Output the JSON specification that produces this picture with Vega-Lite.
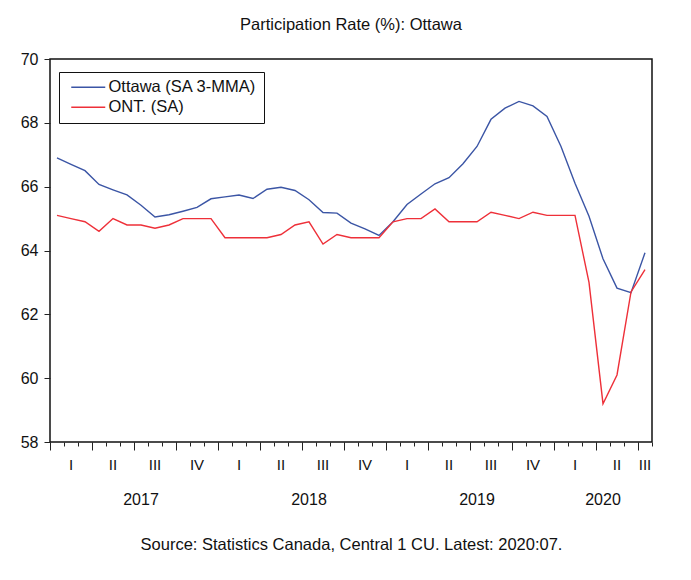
{
  "$schema": "https://vega.github.io/schema/vega-lite/v6.json",
  "width": 602,
  "height": 383,
  "autosize": "none",
  "padding": {"left": 50, "top": 59, "right": 39, "bottom": 138},
  "background": "white",
  "title": {"text": "Participation Rate (%): Ottawa", "frame": "group", "anchor": "middle", "baseline": "alphabetic", "offset": 5, "fontSize": 16.5, "font": "Liberation Sans", "fontWeight": "normal", "color": "#111"},
  "config": {
    "view": {"stroke": "#111", "strokeWidth": 1.5},
    "axis": {"labelFont": "Liberation Sans", "labelColor": "#111", "tickColor": "#222", "titleFont": "Liberation Sans", "titleColor": "#111", "titleFontWeight": "normal", "grid": false, "domain": false}
  },
  "data": {"values": [
    {"month": "2017-01", "ottawa": 66.9, "ont": 65.1},
    {"month": "2017-02", "ottawa": 66.7, "ont": 65.0},
    {"month": "2017-03", "ottawa": 66.5, "ont": 64.9},
    {"month": "2017-04", "ottawa": 66.07, "ont": 64.6},
    {"month": "2017-05", "ottawa": 65.9, "ont": 65.0},
    {"month": "2017-06", "ottawa": 65.74, "ont": 64.8},
    {"month": "2017-07", "ottawa": 65.42, "ont": 64.8},
    {"month": "2017-08", "ottawa": 65.05, "ont": 64.7},
    {"month": "2017-09", "ottawa": 65.12, "ont": 64.8},
    {"month": "2017-10", "ottawa": 65.23, "ont": 65.0},
    {"month": "2017-11", "ottawa": 65.35, "ont": 65.0},
    {"month": "2017-12", "ottawa": 65.62, "ont": 65.0},
    {"month": "2018-01", "ottawa": 65.68, "ont": 64.4},
    {"month": "2018-02", "ottawa": 65.74, "ont": 64.4},
    {"month": "2018-03", "ottawa": 65.63, "ont": 64.4},
    {"month": "2018-04", "ottawa": 65.92, "ont": 64.4},
    {"month": "2018-05", "ottawa": 65.98, "ont": 64.5},
    {"month": "2018-06", "ottawa": 65.88, "ont": 64.8},
    {"month": "2018-07", "ottawa": 65.59, "ont": 64.9},
    {"month": "2018-08", "ottawa": 65.19, "ont": 64.2},
    {"month": "2018-09", "ottawa": 65.17, "ont": 64.5},
    {"month": "2018-10", "ottawa": 64.86, "ont": 64.4},
    {"month": "2018-11", "ottawa": 64.68, "ont": 64.4},
    {"month": "2018-12", "ottawa": 64.47, "ont": 64.4},
    {"month": "2019-01", "ottawa": 64.9, "ont": 64.9},
    {"month": "2019-02", "ottawa": 65.44, "ont": 65.0},
    {"month": "2019-03", "ottawa": 65.77, "ont": 65.0},
    {"month": "2019-04", "ottawa": 66.09, "ont": 65.3},
    {"month": "2019-05", "ottawa": 66.28, "ont": 64.9},
    {"month": "2019-06", "ottawa": 66.72, "ont": 64.9},
    {"month": "2019-07", "ottawa": 67.26, "ont": 64.9},
    {"month": "2019-08", "ottawa": 68.11, "ont": 65.2},
    {"month": "2019-09", "ottawa": 68.46, "ont": 65.1},
    {"month": "2019-10", "ottawa": 68.67, "ont": 65.0},
    {"month": "2019-11", "ottawa": 68.53, "ont": 65.2},
    {"month": "2019-12", "ottawa": 68.2, "ont": 65.1},
    {"month": "2020-01", "ottawa": 67.26, "ont": 65.1},
    {"month": "2020-02", "ottawa": 66.11, "ont": 65.1},
    {"month": "2020-03", "ottawa": 65.07, "ont": 63.0},
    {"month": "2020-04", "ottawa": 63.74, "ont": 59.2},
    {"month": "2020-05", "ottawa": 62.82, "ont": 60.1},
    {"month": "2020-06", "ottawa": 62.68, "ont": 62.7},
    {"month": "2020-07", "ottawa": 63.93, "ont": 63.4}
  ]},
  "resolve": {"axis": {"x": "independent"}},
  "layer": [
    {
      "transform": [{"fold": ["ottawa", "ont"], "as": ["series", "value"]}],
      "mark": {"type": "line", "strokeWidth": 1.4},
      "encoding": {
        "x": {"field": "month", "type": "ordinal", "scale": {"type": "band", "paddingInner": 0, "paddingOuter": 0},
              "axis": {"orient": "bottom", "tickBand": "extent", "labels": false, "ticks": true, "tickSize": 4, "title": null}},
        "y": {"field": "value", "type": "quantitative", "scale": {"domain": [58, 70], "nice": false, "zero": false},
              "axis": {"values": [58, 60, 62, 64, 66, 68, 70], "title": null, "tickSize": 6, "labelPadding": 6, "labelFontSize": 16}},
        "color": {"field": "series", "type": "nominal", "scale": {"domain": ["ottawa", "ont"], "range": ["#3b55a5", "#ee3039"]},
                  "legend": {"orient": "none", "legendX": 9, "legendY": 13, "title": null, "strokeColor": "#111", "padding": 7,
                             "symbolType": "M-3.4,0H3.4", "symbolSize": 100, "symbolStrokeWidth": 1.5, "symbolOffset": 14,
                             "labelFont": "Liberation Sans", "labelFontSize": 16.5, "labelColor": "#111", "rowPadding": 3, "labelOffset": 12, "labelLimit": 400,
                             "labelExpr": "datum.value == 'ottawa' ? 'Ottawa (SA 3-MMA)' : 'ONT. (SA)'"}}
      }
    },
    {
      "mark": {"type": "point", "opacity": 0},
      "encoding": {
        "x": {"field": "month", "type": "ordinal", "scale": {"type": "band", "paddingInner": 0, "paddingOuter": 0},
              "axis": {"orient": "bottom", "bandPosition": 0, "values": ["2017-01","2017-04","2017-07","2017-10","2018-01","2018-04","2018-07","2018-10","2019-01","2019-04","2019-07","2019-10","2020-01","2020-04","2020-07"],
                       "labels": false, "ticks": true, "tickSize": 8, "title": null}}
      }
    },
    {
      "mark": {"type": "point", "opacity": 0},
      "encoding": {
        "x": {"field": "month", "type": "ordinal", "scale": {"type": "band", "paddingInner": 0, "paddingOuter": 0},
              "axis": {"orient": "bottom", "values": ["2017-02","2017-05","2017-08","2017-11","2018-02","2018-05","2018-08","2018-11","2019-02","2019-05","2019-08","2019-11","2020-02","2020-05","2020-07"],
                       "ticks": false, "labelPadding": 15, "labelFontSize": 15, "labelAngle": 0, "labelOverlap": false, "labelFlush": false, "title": null,
                       "labelExpr": "slice(datum.value, 5) == '02' ? 'I' : slice(datum.value, 5) == '05' ? 'II' : slice(datum.value, 5) == '11' ? 'IV' : 'III'"}}
      }
    },
    {
      "mark": {"type": "point", "opacity": 0},
      "encoding": {
        "x": {"field": "month", "type": "ordinal", "scale": {"type": "band", "paddingInner": 0, "paddingOuter": 0},
              "axis": {"orient": "bottom", "bandPosition": 0, "values": ["2017-07","2018-07","2019-07"],
                       "ticks": false, "labelPadding": 49, "labelFontSize": 16, "labelAngle": 0, "labelOverlap": false, "labelFlush": false, "title": null,
                       "labelExpr": "slice(datum.value, 0, 4)"}}
      }
    },
    {
      "mark": {"type": "point", "opacity": 0},
      "encoding": {
        "x": {"field": "month", "type": "ordinal", "scale": {"type": "band", "paddingInner": 0, "paddingOuter": 0},
              "axis": {"orient": "bottom", "values": ["2020-04"],
                       "ticks": false, "labelPadding": 49, "labelFontSize": 16, "labelAngle": 0, "labelOverlap": false, "labelFlush": false,
                       "labelExpr": "'2020'",
                       "title": "Source: Statistics Canada, Central 1 CU. Latest: 2020:07.", "titleFontSize": 16.5, "titlePadding": 29}}
      }
    }
  ]
}
